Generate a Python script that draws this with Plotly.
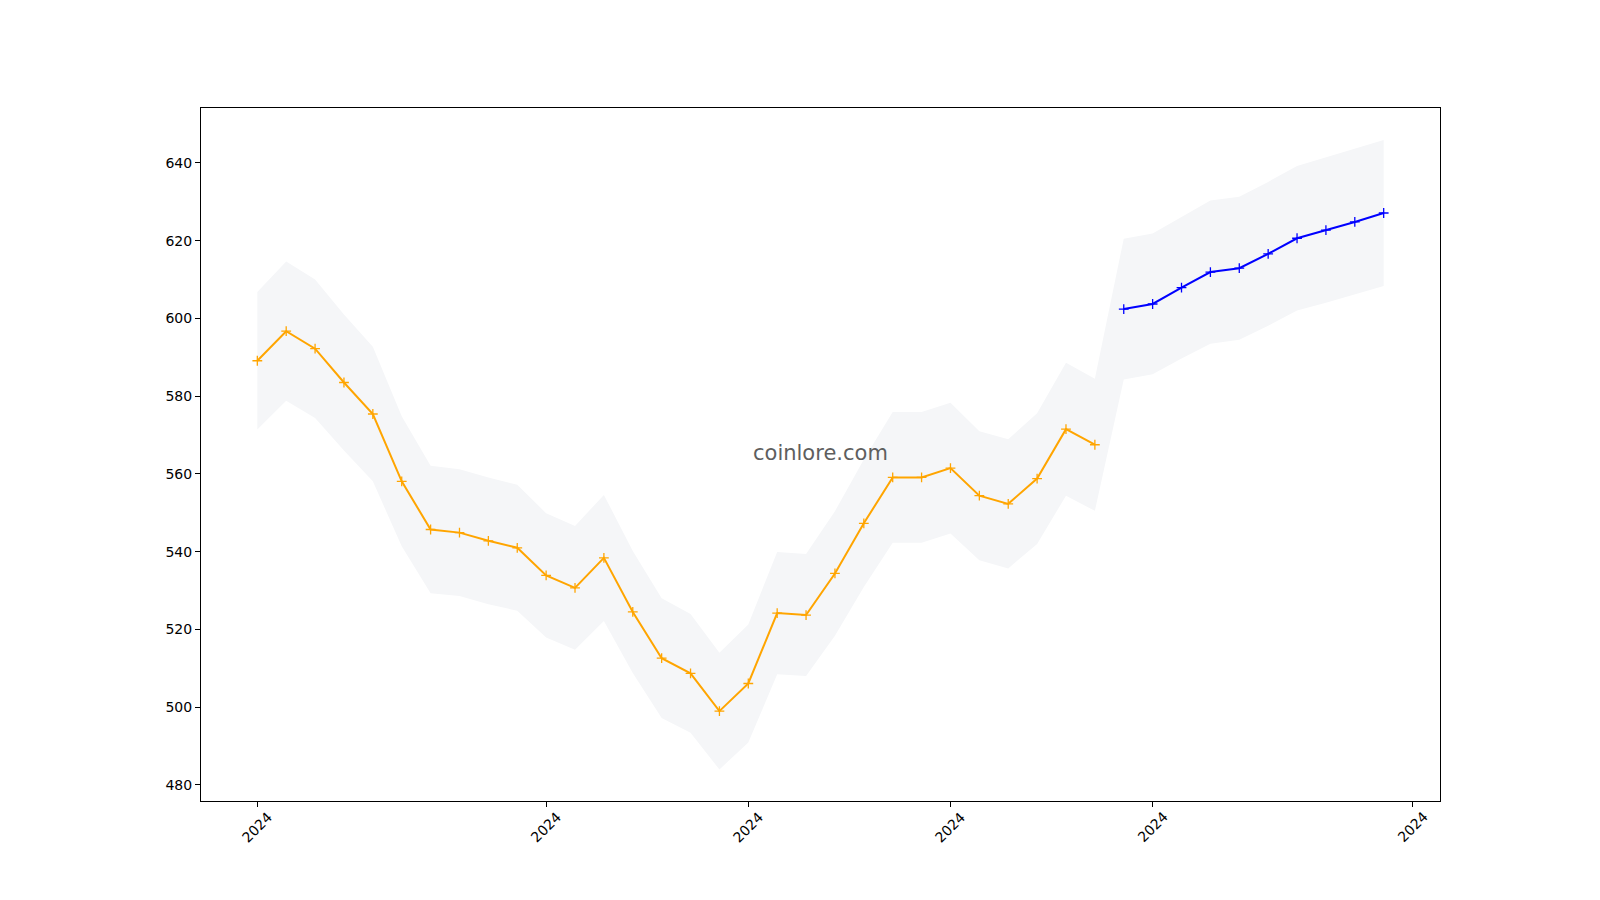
import pandas as pd
import plotly.graph_objects as go

# ---- data ----
start_date = "2024-10-22"
hist_values = [589.1, 596.7, 592.2, 583.5, 575.4, 558.1, 545.7, 544.9, 542.8, 541.0,
               533.9, 530.7, 538.4, 524.5, 512.6, 508.7, 499.0, 506.1, 524.2, 523.7,
               534.4, 547.3, 559.1, 559.1, 561.5, 554.4, 552.3, 558.8, 571.5, 567.5]
pred_values = [602.4, 603.7, 607.9, 611.9, 612.9, 616.6, 620.6, 622.7, 624.8, 627.1]

band_upper = [606.8, 614.6, 610.0, 601.0, 592.7, 574.8, 562.1, 561.2, 559.1, 557.2,
              549.9, 546.6, 554.6, 540.2, 528.0, 524.0, 514.0, 521.3, 539.9, 539.4,
              550.4, 563.7, 575.9, 575.9, 578.3, 571.0, 568.9, 575.6, 588.6, 584.5,
              620.5, 621.8, 626.1, 630.3, 631.3, 635.1, 639.2, 641.4, 643.5, 645.9]
band_lower = [571.4, 578.8, 574.4, 566.0, 558.1, 541.4, 529.3, 528.6, 526.5, 524.8,
              517.9, 514.8, 522.2, 508.8, 497.2, 493.4, 484.0, 490.9, 508.5, 508.0,
              518.4, 530.9, 542.3, 542.3, 544.7, 537.8, 535.7, 542.0, 554.4, 550.5,
              584.3, 585.6, 589.7, 593.5, 594.5, 598.1, 602.0, 604.0, 606.1, 608.3]

tick_dates = ["2024-10-22", "2024-11-01", "2024-11-08", "2024-11-15", "2024-11-22", "2024-12-01"]
tick_labels = ["2024", "2024", "2024", "2024", "2024", "2024"]
y_ticks = [480, 500, 520, 540, 560, 580, 600, 620, 640]
watermark = "coinlore.com"

# ---- build ----
n_all = len(hist_values) + len(pred_values)
dates = pd.date_range(start_date, periods=n_all, freq="D")
hist_dates = dates[:len(hist_values)]
pred_dates = dates[len(hist_values):]

FONT = "DejaVu Sans"
fig = go.Figure()

fig.add_trace(go.Scatter(
    x=list(dates) + list(dates[::-1]),
    y=band_upper + band_lower[::-1],
    fill="toself", fillcolor="#f5f6f8", line=dict(width=0),
    mode="lines", hoverinfo="skip", showlegend=False))

marker_common = dict(symbol="cross-thin", size=7)
fig.add_trace(go.Scatter(
    x=hist_dates, y=hist_values, mode="lines+markers",
    line=dict(color="#FFA500", width=2),
    marker=dict(**marker_common, color="#FFA500", line=dict(color="#FFA500", width=1.3)),
    showlegend=False))
fig.add_trace(go.Scatter(
    x=pred_dates, y=pred_values, mode="lines+markers",
    line=dict(color="#0000FF", width=2),
    marker=dict(**marker_common, color="#0000FF", line=dict(color="#0000FF", width=1.3)),
    showlegend=False))

x0 = pd.Timestamp(start_date)
span_days = n_all - 1
pad = span_days * 0.05
x_range = [x0 - pd.Timedelta(days=pad), x0 + pd.Timedelta(days=span_days + pad)]

fig.update_xaxes(
    type="date", range=x_range, tickvals=tick_dates, showticklabels=False,
    ticks="outside", ticklen=5, tickwidth=1, tickcolor="black",
    showline=True, linecolor="black", linewidth=1, mirror=True,
    showgrid=False, zeroline=False)
fig.update_yaxes(
    range=[475.88, 654.1], tickvals=y_ticks,
    ticks="outside", ticklen=5, tickwidth=1, tickcolor="black",
    tickfont=dict(family=FONT, size=14, color="black"),
    showline=True, linecolor="black", linewidth=1, mirror=True,
    showgrid=False, zeroline=False)

annotations = []
for d, lab in zip(tick_dates, tick_labels):
    annotations.append(dict(
        x=d, xref="x", y=0, yref="paper", text=lab, showarrow=False,
        textangle=-45, xanchor="center", yanchor="middle", yshift=-26,
        font=dict(family=FONT, size=14, color="black")))
annotations.append(dict(
    x=0.5, y=0.5, xref="paper", yref="paper", text=watermark, showarrow=False,
    xanchor="center", yanchor="middle", yshift=2,
    font=dict(family=FONT, size=21, color="#5e5e5e")))

fig.update_layout(
    width=1600, height=900,
    margin=dict(l=201, r=160, t=108, b=99),
    paper_bgcolor="white", plot_bgcolor="white",
    font=dict(family=FONT, size=14, color="black"),
    annotations=annotations, showlegend=False)

fig.write_html("out.html")
